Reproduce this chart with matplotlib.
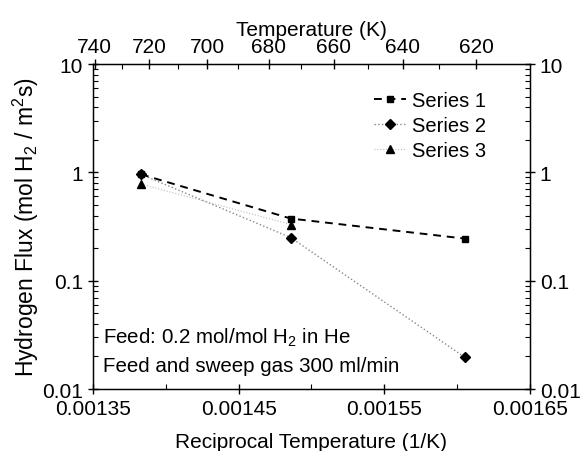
import numpy as np
import matplotlib
matplotlib.use('Agg')
import matplotlib.pyplot as plt
from matplotlib.legend_handler import HandlerLine2D

plt.rcParams['font.family'] = ['Liberation Sans', 'DejaVu Sans']
plt.rcParams['mathtext.default'] = 'regular'

# measurement temperatures (K) and fluxes
temps = [723, 673, 623]
series1 = [0.96, 0.375, 0.245]
series2 = [0.96, 0.25, 0.0197]
temps3 = [723, 673]
series3 = [0.78, 0.33]

top_temps = [740, 720, 700, 680, 660, 640, 620]
top_minor = [730, 710, 690, 670, 650, 630]
x_ticks = [0.00135, 0.00145, 0.00155, 0.00165]
y_ticks = [0.01, 0.1, 1, 10]
y_labels = ['0.01', '0.1', '1', '10']

x = [1.0 / t for t in temps]
x3 = [1.0 / t for t in temps3]


class LeftMarker(HandlerLine2D):
    # marker on the left end of the legend line, like the original plot
    def get_xdata(self, legend, xdescent, ydescent, width, height, fontsize):
        xdata, _ = super().get_xdata(legend, xdescent, ydescent, width, height, fontsize)
        return xdata, [xdata[0]]


fig = plt.figure(figsize=(5.8, 4.52), dpi=100)
ax = fig.add_axes([0.160, 0.137, 0.754, 0.719])

l1, = ax.plot(x, series1, color='black', linestyle=(0, (4, 3)), linewidth=1.4,
              marker='s', markersize=5, label='Series 1')
l2, = ax.plot(x, series2, color='#888888', linestyle=':', linewidth=1.0,
              marker='D', markersize=5, markerfacecolor='black', markeredgecolor='black',
              label='Series 2')
l3, = ax.plot(x3, series3, color='#bbbbbb', linestyle=':', linewidth=0.8,
              marker='^', markersize=6, markerfacecolor='black', markeredgecolor='black',
              label='Series 3')

ax.set_yscale('log')
ax.set_xlim(0.00135, 0.00165)
ax.set_ylim(0.01, 10)
ax.set_xticks(x_ticks)
ax.set_xticklabels(['%.5f' % v for v in x_ticks])
ax.set_xticks([0.0014, 0.0015, 0.0016], minor=True)
ax.set_yticks(y_ticks)
ax.set_yticklabels(y_labels)
ax.tick_params(axis='both', which='major', direction='inout', length=7, width=1, labelsize=15)
ax.tick_params(axis='both', which='minor', direction='in', length=3.5, width=0.8)
ax.tick_params(axis='y', which='both', right=True, labelright=True)
ax.tick_params(axis='x', which='both', top=False)
ax.set_xlabel('Reciprocal Temperature (1/K)', fontsize=15, labelpad=10)
ax.set_ylabel('Hydrogen Flux (mol H$_2$ / m$^2$s)', fontsize=16.5, labelpad=1)

top = ax.twiny()
top.set_xlim(ax.get_xlim())
top.set_xticks([1.0 / t for t in top_temps])
top.set_xticklabels([str(t) for t in top_temps])
top.set_xticks([1.0 / t for t in top_minor], minor=True)
top.tick_params(axis='x', which='major', direction='inout', length=7, width=1, labelsize=15, pad=2)
top.tick_params(axis='x', which='minor', direction='in', length=3.5, width=0.8)
top.set_xlabel('Temperature (K)', fontsize=15, labelpad=2)

ax.text(0.023, 0.16, 'Feed: 0.2 mol/mol H$_2$ in He', transform=ax.transAxes,
        fontsize=14.8, va='center', ha='left')
ax.text(0.023, 0.074, 'Feed and sweep gas 300 ml/min', transform=ax.transAxes,
        fontsize=14.8, va='center', ha='left')

ax.legend(handles=[l1, l2, l3], loc='upper left', bbox_to_anchor=(0.61, 0.96),
          frameon=False, fontsize=14.5, handlelength=1.6, handletextpad=0.3,
          labelspacing=0.3, borderpad=0.2,
          handler_map={l1: LeftMarker(numpoints=1), l2: LeftMarker(numpoints=1),
                       l3: LeftMarker(numpoints=1)})

for s in ax.spines.values():
    s.set_linewidth(1.0)

fig.savefig('out.png', dpi=100)
